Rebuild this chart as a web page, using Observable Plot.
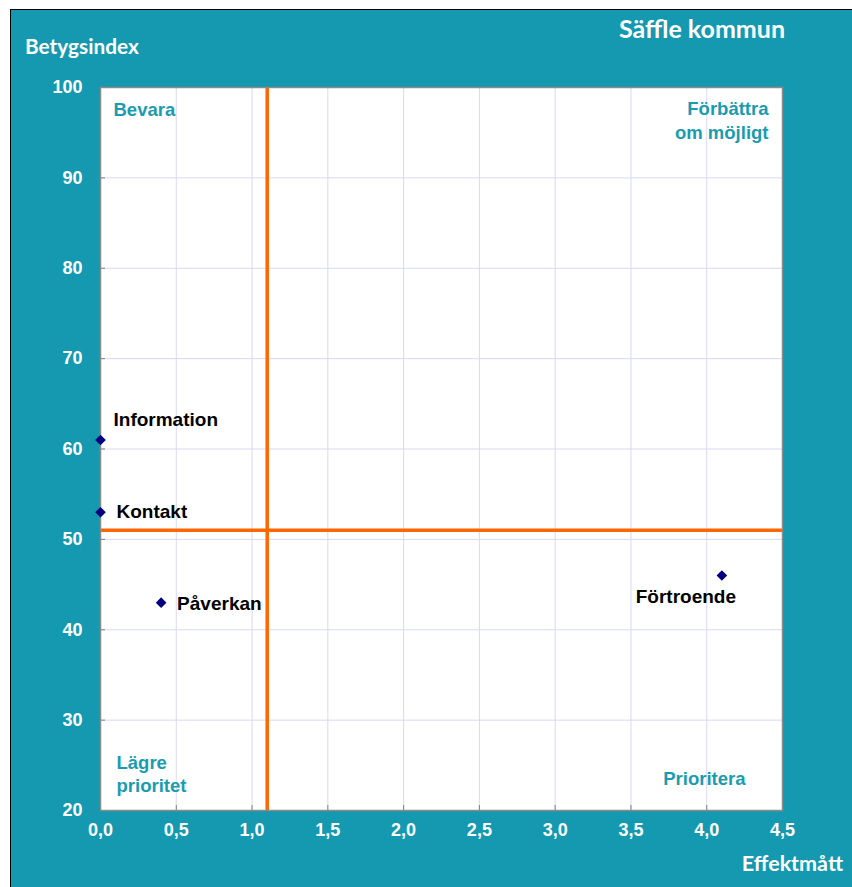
<!DOCTYPE html>
<html><head><meta charset="utf-8">
<script src="https://cdn.jsdelivr.net/npm/d3@7"></script>
<script src="https://cdn.jsdelivr.net/npm/@observablehq/plot@0.6"></script>
<style>
body{margin:0;background:#fff;}
#panel{position:absolute;left:10px;top:9px;width:841px;height:877px;background:#1499b0;border-left:1px solid #000;border-top:1px solid #000;}
#chart{position:absolute;left:0;top:0;}
.lab{position:absolute;color:#fff;font-family:Lato,"Open Sans",sans-serif;font-weight:bold;line-height:1;white-space:nowrap;}
</style></head><body>
<div id="panel">
  <div id="chart"></div>
  <div class="lab" style="left:591px;top:6px;width:200px;text-align:center;font-size:25px;">Säffle kommun</div>
  <div class="lab" style="left:14px;top:26px;font-size:20.8px;">Betygsindex</div>
  <div class="lab" style="right:9px;top:843px;font-size:21.5px;">Effektmått</div>
</div>
<script>
// Data
const categories = ["Information", "Kontakt", "Påverkan", "Förtroende"];
const effekt = [0.0, 0.0, 0.4, 4.1];
const betyg = [61, 53, 43, 46];
const xTicks = [0, 0.5, 1.0, 1.5, 2.0, 2.5, 3.0, 3.5, 4.0, 4.5];
const yTicks = [20, 30, 40, 50, 60, 70, 80, 90, 100];
const xThreshold = [1.1];
const yThreshold = [51];
const quadrantLabels = ["Bevara", "Förbättra\nom möjligt", "Lägre\nprioritet", "Prioritera"];

const points = categories.map((c, i) => ({name: c, x: effekt[i], y: betyg[i]}));

// label offsets (style)
const labelStyle = {
  "Information": {dx: 13, dy: -20, textAnchor: "start"},
  "Kontakt": {dx: 16, dy: 0, textAnchor: "start"},
  "Påverkan": {dx: 16, dy: 1, textAnchor: "start"},
  "Förtroende": {dx: -36, dy: 21, textAnchor: "middle"}
};

const teal = "#1a9cb0";
const font = "'Liberation Sans', Arial, sans-serif";
const fmt = d => d.toFixed(1).replace(".", ",");

const labelMarks = points.map(p => Plot.text([p], {
  x: "x", y: "y", text: "name",
  dx: labelStyle[p.name].dx, dy: labelStyle[p.name].dy,
  textAnchor: labelStyle[p.name].textAnchor,
  fill: "black", fontWeight: "bold", fontSize: 19, fontFamily: font
}));

const qStyle = [
  {frameAnchor: "top-left", dx: 13, dy: 12, textAnchor: "start", lineAnchor: "top", lineHeight: 1.28},
  {frameAnchor: "top-right", dx: -14, dy: 11, textAnchor: "end", lineAnchor: "top", lineHeight: 1.28},
  {frameAnchor: "bottom-left", dx: 16, dy: -19, textAnchor: "start", lineAnchor: "bottom", lineHeight: 1.2},
  {frameAnchor: "bottom-right", dx: -37, dy: -26, textAnchor: "end", lineAnchor: "bottom", lineHeight: 1.2}
];
const quadMarks = quadrantLabels.map((t, i) => Plot.text([t], {
  text: d => d, ...qStyle[i],
  fill: teal, fontWeight: "bold", fontSize: 18.5, fontFamily: font
}));

const chart = Plot.plot({
  width: 841, height: 877,
  marginLeft: 89, marginRight: 70, marginTop: 77, marginBottom: 77,
  style: {background: "transparent", fontFamily: font, overflow: "visible"},
  x: {domain: [0, 4.5]},
  y: {domain: [20, 100]},
  marks: [
    Plot.frame({fill: "white", stroke: "none"}),
    Plot.gridX(xTicks, {stroke: "#d8d8f6", strokeOpacity: 1, strokeWidth: 1}),
    Plot.gridY(yTicks, {stroke: "#d8d8f6", strokeOpacity: 1, strokeWidth: 1}),
    Plot.axisX(xTicks, {tickSize: -5, stroke: "#808080", tickFormat: () => "", label: null}),
    Plot.axisY(yTicks, {tickSize: -5, stroke: "#808080", tickFormat: () => "", label: null}),
    Plot.axisX(xTicks, {tickSize: 0, tickPadding: 13, tickFormat: fmt, fill: "white", fontWeight: "bold", fontSize: 18, fontFamily: font, label: null}),
    Plot.axisY(yTicks, {tickSize: 0, tickPadding: 18, fill: "white", fontWeight: "bold", fontSize: 18, fontFamily: font, label: null}),
    Plot.ruleX(xThreshold, {stroke: "#ff6600", strokeWidth: 3.5}),
    Plot.ruleY(yThreshold, {stroke: "#ff6600", strokeWidth: 3.5}),
    Plot.frame({stroke: "#8a8a8a", strokeWidth: 1.5}),
    ...quadMarks,
    Plot.dot(points, {x: "x", y: "y", symbol: "diamond2", r: 4.8, fill: "#000080", stroke: "none"}),
    ...labelMarks
  ]
});
document.getElementById("chart").appendChild(chart);
</script>
</body></html>
